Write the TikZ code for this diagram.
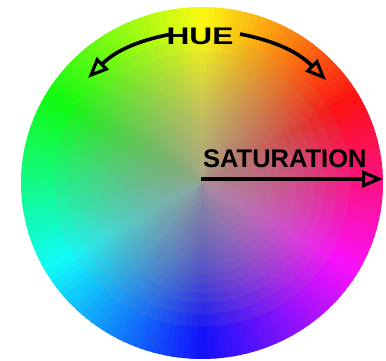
\documentclass[tikz,border=0pt]{standalone}
\usepackage{fontspec}
\setmainfont{Liberation Sans}
\usetikzlibrary{arrows.meta}
\definecolor{centergray}{rgb}{0.63,0.62,0.59}
\tikzset{
  label/.style={font=\bfseries, text=black, inner sep=0pt},
  arr/.style={line width=3.6pt, draw=black, -{Triangle[open, length=21pt, width=17pt, line width=3.2pt]}}
}
\begin{document}
\begin{tikzpicture}[x=1pt,y=1pt]
\useasboundingbox (0,0) rectangle (386,360);
\coordinate (C) at (202,177);
% hue wedges
\foreach \i in {0,...,179}{
  \pgfmathsetmacro\a{2*\i}
  \pgfmathsetmacro\h{mod(2*\i+1-30+360,360)}
  \definecolor{wc}{Hsb}{\h,0.93,0.98}
  \fill[wc] (C) -- ++(\a:181 and 176) arc[start angle=\a, end angle=\a+2.6, x radius=181, y radius=176] -- cycle;
}
% desaturated centre: stacked translucent ellipses
\foreach \k in {1,...,18}{
  \pgfmathsetmacro\f{0.93*(1-(\k/19)^(1/1.4))}
  \fill[centergray, fill opacity=0.1] (C) ellipse[x radius=181*\f, y radius=176*\f];
}
% labels
\node[label, font=\bfseries\fontsize{24}{24}\selectfont, xscale=1.32, anchor=base] (hue) at (200,316) {HUE};
\node[label, font=\bfseries\fontsize{25.5}{25.5}\selectfont, anchor=base west] (sat) at (203,193) {SATURATION};
% connectors
\coordinate (hueLs) at (172,326);
\coordinate (hueLe) at (88,282);
\coordinate (hueRs) at (240,326);
\coordinate (hueRe) at (326,280);
\coordinate (satS) at (201,181);
\coordinate (satE) at (383,181);
\draw[arr] (hueLs) to[bend right=17] (hueLe);
\draw[arr] (hueRs) to[bend left=17] (hueRe);
\draw[arr] (satS) -- (satE);
\end{tikzpicture}
\end{document}
